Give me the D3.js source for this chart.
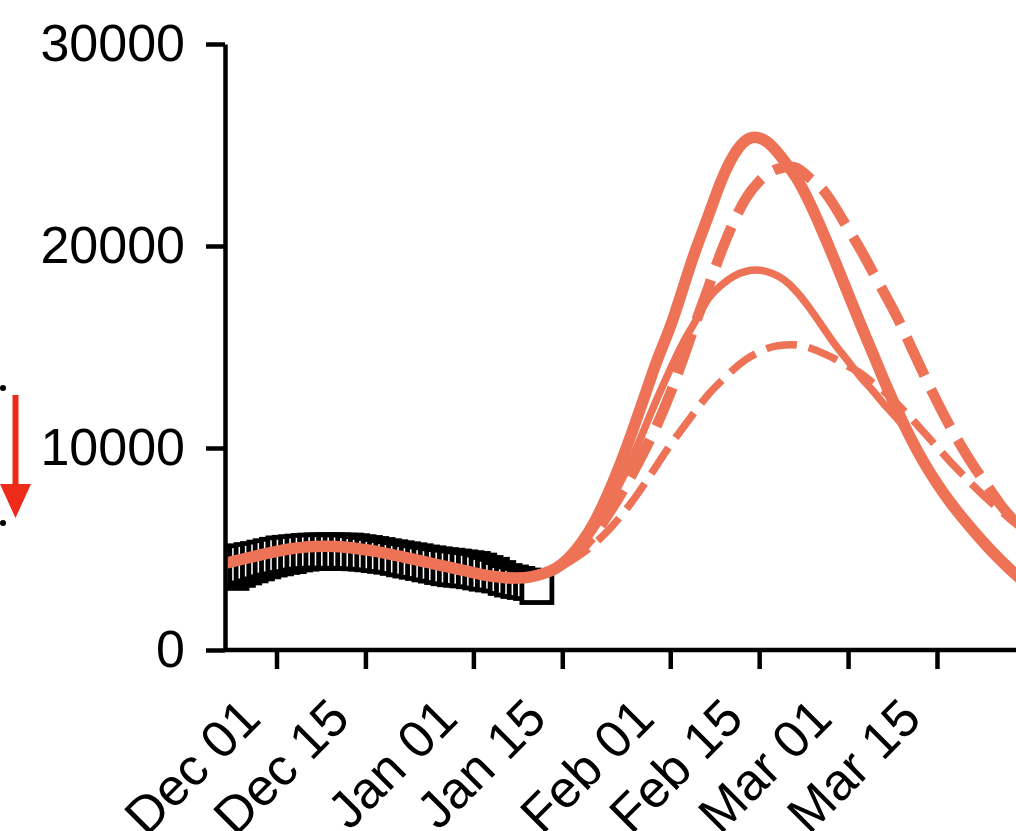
<!DOCTYPE html>
<html><head><meta charset="utf-8">
<script src="https://cdn.jsdelivr.net/npm/d3@7"></script>
<style>html,body{margin:0;padding:0;background:#fff;} svg{display:block;font-family:"Liberation Sans",Arial,sans-serif;}</style>
</head><body>
<svg id="chart" width="1016" height="831"></svg>
<script>
// ---------- data ----------
const obsDates = ["2020-11-24","2020-11-25","2020-11-26","2020-11-27","2020-11-28","2020-11-29","2020-11-30",
  "2020-12-01","2020-12-02","2020-12-03","2020-12-04","2020-12-05","2020-12-06","2020-12-07","2020-12-08","2020-12-09",
  "2020-12-10","2020-12-11","2020-12-12","2020-12-13","2020-12-14","2020-12-15","2020-12-16","2020-12-17","2020-12-18",
  "2020-12-19","2020-12-20","2020-12-21","2020-12-22","2020-12-23","2020-12-24","2020-12-25","2020-12-26","2020-12-27",
  "2020-12-28","2020-12-29","2020-12-30","2020-12-31","2021-01-01","2021-01-02","2021-01-03","2021-01-04","2021-01-05",
  "2021-01-06","2021-01-07","2021-01-08","2021-01-09","2021-01-10","2021-01-11"];
const obsHigh = [5070,5120,5160,5220,5270,5340,5410,5480,5550,5580,5610,5640,5670,5690,5700,5700,5700,5690,5690,5660,
  5610,5570,5520,5470,5410,5360,5310,5260,5210,5160,5100,5060,5010,4970,4940,4900,4860,4820,4780,4700,4580,4490,4330,
  4180,4110,4040,3960,3890,3840];
const obsLow = [3050,3200,3320,3420,3520,3620,3710,3770,3840,3880,3960,4000,4030,4050,4060,4060,4050,4050,4050,4040,
  4020,4000,3970,3930,3890,3850,3790,3720,3660,3600,3540,3470,3410,3340,3280,3230,3200,3170,3130,3070,3010,2970,2920,
  2800,2720,2650,2600,2550,2350];

const fitDates = ["2020-11-23","2020-11-25","2020-11-27","2020-11-29","2020-12-01","2020-12-03","2020-12-05","2020-12-07",
  "2020-12-09","2020-12-11","2020-12-13","2020-12-15","2020-12-17","2020-12-19","2020-12-21","2020-12-23","2020-12-25",
  "2020-12-27","2020-12-29","2020-12-31","2021-01-02","2021-01-04","2021-01-06","2021-01-08","2021-01-10","2021-01-12"];
const fitValues = [4300,4450,4600,4750,4880,5000,5080,5120,5130,5110,5050,4960,4860,4740,4600,4460,4320,4180,4040,3900,
  3760,3650,3580,3560,3620,3780];

const scenarioDates = ["2021-01-14","2021-01-16","2021-01-18","2021-01-20","2021-01-22","2021-01-24","2021-01-26",
  "2021-01-28","2021-01-30","2021-02-01","2021-02-03","2021-02-05","2021-02-07","2021-02-09","2021-02-11","2021-02-13",
  "2021-02-15","2021-02-17","2021-02-19","2021-02-21","2021-02-23","2021-02-25","2021-02-27","2021-03-01","2021-03-03",
  "2021-03-05","2021-03-07","2021-03-09","2021-03-11","2021-03-13","2021-03-15","2021-03-17","2021-03-19","2021-03-21",
  "2021-03-23","2021-03-25","2021-03-27","2021-03-29"];
const scenarioThickSolid = [4050,4550,5300,6300,7600,9100,10800,12600,14400,16000,17900,19800,21500,23200,24500,25250,
  25350,24950,24200,23300,22100,20700,19200,17650,16100,14600,13100,11700,10400,9250,8250,7350,6550,5800,5100,4450,3850,3300];
const scenarioThinSolid = [4050,4500,5150,6000,7000,8200,9500,11000,12500,13900,15200,16300,17400,18050,18500,18750,
  18800,18650,18300,17700,16900,16000,15100,14300,13500,12800,12050,11350,10400,9250,8250,7350,6550,5800,5100,4450,3850,3300];
const scenarioThickDashed = [4050,4450,5000,5700,6600,7600,8700,9900,11200,12700,14400,16200,17950,19700,21200,22400,
  23200,23700,23900,23850,23350,22800,21900,20850,19800,18650,17500,16300,14950,13600,12300,11100,10000,9000,8100,7200,6450,5750];
const scenarioThinDashed = [4050,4350,4750,5250,5850,6550,7350,8250,9200,10150,11000,11850,12650,13300,13900,14400,
  14750,15000,15100,15100,14950,14700,14400,14050,13700,13200,12700,12100,11450,10750,10050,9350,8700,8050,7450,6900,6350,5850];

const xTickDates = ["2020-12-01","2020-12-15","2021-01-01","2021-01-15","2021-02-01","2021-02-15","2021-03-01","2021-03-15"];
const xTickLabels = ["Dec 01","Dec 15","Jan 01","Jan 15","Feb 01","Feb 15","Mar 01","Mar 15"];
const yTicks = [0, 10000, 20000, 30000];
const xDomain = ["2020-11-23","2021-04-12"];

// ---------- drawing ----------
const parse = d3.utcParse("%Y-%m-%d");
const svg = d3.select("#chart");
const red = "#EE7256";
const fontSize = 52;

const x = d3.scaleUtc().domain(xDomain.map(parse)).range([225.7, 1114.8]);
const y = d3.scaleLinear().domain([0, 30000]).range([650, 44]);
const x0 = 225;

svg.append("defs").append("clipPath").attr("id","plotclip")
  .append("rect").attr("x", x0 + 2).attr("y", 0).attr("width", 1016).attr("height", 650);

const plot = svg.append("g").attr("clip-path","url(#plotclip)");

// observation boxes (drawn in date order, white fill covers earlier ones)
const obs = obsDates.map((d,i)=>({date: parse(d), hi: obsHigh[i], lo: obsLow[i]}));
const boxW = 30;
plot.append("g").selectAll("rect").data(obs).join("rect")
  .attr("x", d => x(d.date) - boxW/2)
  .attr("width", boxW)
  .attr("y", d => y(d.hi))
  .attr("height", d => y(d.lo) - y(d.hi))
  .attr("fill", "#fff")
  .attr("stroke", "#000")
  .attr("stroke-width", 4.8);

// model curves
const fitPts = fitDates.map((d,i)=>({date: parse(d), v: fitValues[i]}));
function series(vals){ return fitPts.concat(scenarioDates.map((d,i)=>({date: parse(d), v: vals[i]}))); }
const line = d3.line().x(d=>x(d.date)).y(d=>y(d.v)).curve(d3.curveNatural);

const curves = [
  {vals: scenarioThinDashed, w: 7.5, dash: "31,12"},
  {vals: scenarioThickDashed, w: 10.5, dash: "42,15"},
  {vals: scenarioThinSolid, w: 7.5, dash: null},
  {vals: scenarioThickSolid, w: 11.5, dash: null}
];
plot.append("g").selectAll("path").data(curves).join("path")
  .attr("d", c => line(series(c.vals)))
  .attr("fill","none")
  .attr("stroke", red)
  .attr("stroke-width", c => c.w)
  .attr("stroke-dasharray", c => c.dash)
  .attr("stroke-linejoin","round");

// axes
const yAxis = svg.append("g").attr("transform", `translate(${x0},0)`)
  .call(d3.axisLeft(y).tickValues(yTicks).tickSize(19).tickSizeOuter(0).tickPadding(21).tickFormat(d3.format("d")));
const xAxis = svg.append("g").attr("transform", "translate(0,650)")
  .call(d3.axisBottom(x).tickValues(xTickDates.map(parse)).tickSize(19).tickSizeOuter(0)
    .tickFormat((d,i)=>xTickLabels[i]));
xAxis.select(".domain").attr("d", `M${x0},0H1016`);
[yAxis, xAxis].forEach(a=>{
  a.select(".domain").attr("stroke","#000").attr("stroke-width",4.5);
  a.selectAll(".tick line").attr("stroke","#000").attr("stroke-width",4.5);
  a.selectAll("text").attr("fill","#000").style("font-size", fontSize+"px")
    .style("font-family","'Liberation Sans', Arial, sans-serif");
});
xAxis.selectAll(".tick text")
  .attr("x", 0).attr("y", 0).attr("dy", 0)
  .attr("text-anchor","end")
  .attr("transform","translate(-14,71) rotate(-45)");

// fragment of neighbouring panel on the left edge (annotation)
const deco = svg.append("g");
deco.append("circle").attr("cx",3).attr("cy",388).attr("r",3).attr("fill","#000");
deco.append("circle").attr("cx",3).attr("cy",523).attr("r",3).attr("fill","#000");
deco.append("line").attr("x1",15.5).attr("x2",15.5).attr("y1",395).attr("y2",486)
  .attr("stroke","#EE2A1B").attr("stroke-width",6);
deco.append("path").attr("d","M0,484L31,484L15.5,518Z").attr("fill","#EE2A1B");
</script>
</body></html>
